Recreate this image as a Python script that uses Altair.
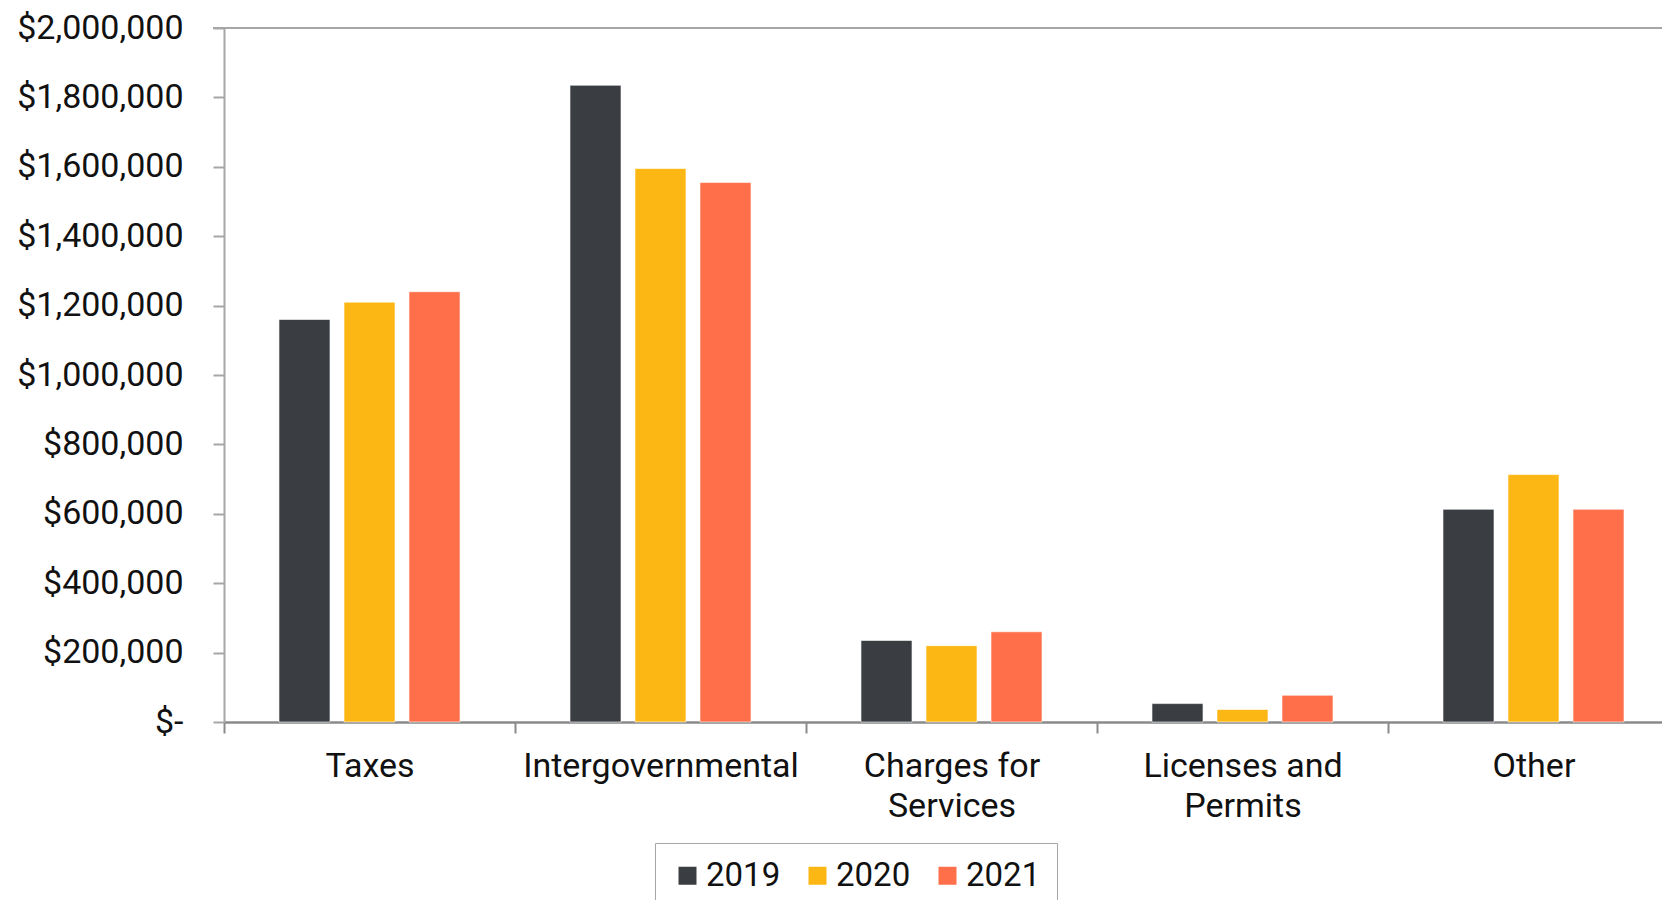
import altair as alt
import pandas as pd

categories = ["Taxes", "Intergovernmental", "Charges for\nServices", "Licenses and\nPermits", "Other"]
years = ["2019", "2020", "2021"]
v2019 = [1160000, 1835000, 235000, 53000, 613000]
v2020 = [1210000, 1595000, 220000, 36000, 713000]
v2021 = [1240000, 1555000, 260000, 77000, 613000]
colors = ["#3A3E42", "#FDB714", "#FF6F4A"]

rows = []
for i, c in enumerate(categories):
    for y, vals in zip(years, [v2019, v2020, v2021]):
        rows.append({"category": c, "year": y, "value": vals[i]})
df = pd.DataFrame(rows)

FONT = "Roboto"

bars = alt.Chart(df).mark_bar(stroke="white", strokeWidth=1, strokeOpacity=0.6).encode(
    x=alt.X("category:N", sort=categories, title=None,
            scale=alt.Scale(range=[0, 1455], paddingInner=0, paddingOuter=0),
            axis=alt.Axis(labelAngle=0, labelFontSize=34, labelFont=FONT, labelColor="#111111",
                          labelExpr="split(datum.label, '\\n')", labelLineHeight=40,
                          labelPadding=16, labelLimit=0, tickBand="extent", tickSize=11,
                          tickWidth=2, tickColor="#8A8A8A", domainColor="#8A8A8A",
                          domainWidth=2.5, labelBaseline="top")),
    xOffset=alt.XOffset("year:N", sort=years,
                        scale=alt.Scale(paddingInner=0.215, paddingOuter=0.846)),
    y=alt.Y("value:Q", title=None,
            scale=alt.Scale(domain=[0, 2000000], nice=False),
            axis=alt.Axis(values=[0, 200000, 400000, 600000, 800000, 1000000, 1200000,
                                  1400000, 1600000, 1800000, 2000000],
                          labelExpr="datum.value == 0 ? '$-' : '$' + format(datum.value, ',')",
                          labelFontSize=34, labelFont=FONT, labelColor="#111111",
                          labelPadding=30, labelLimit=0, tickSize=11, tickWidth=2,
                          tickColor="#A6A6A6", domainColor="#A6A6A6", domainWidth=2,
                          grid=False)),
    color=alt.Color("year:N", sort=years,
                    scale=alt.Scale(domain=years, range=colors),
                    legend=alt.Legend(title=None, orient="none", direction="horizontal",
                                      legendX=431, legendY=815, symbolType="square",
                                      symbolSize=324, symbolStrokeWidth=0,
                                      labelFontSize=33, labelFont=FONT, labelColor="#111111",
                                      labelOffset=2, columnPadding=20, padding=16,
                                      strokeColor="#A6A6A6")),
)

top_line = alt.Chart(pd.DataFrame({"v": [2000000]})).mark_rule(color="#A6A6A6", strokeWidth=2).encode(
    y="v:Q", x=alt.value(-11), x2=alt.value(1700)
)

chart = alt.layer(bars, top_line).properties(
    width=1438, height=694,
    autosize=alt.AutoSizeParams(type="none"),
    padding={"left": 224, "top": 28, "right": 0, "bottom": 178},
).configure_view(stroke=None).configure(font=FONT)

chart.save("out.html", embed_options={"renderer": "svg", "actions": False})
